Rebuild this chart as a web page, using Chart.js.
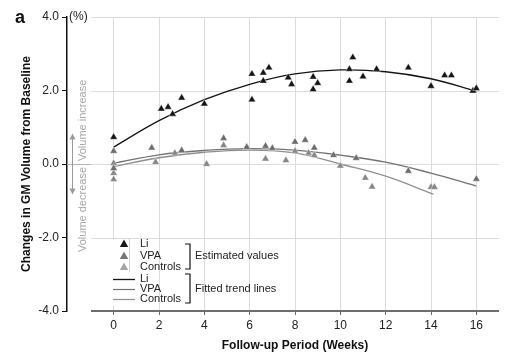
<!DOCTYPE html>
<html><head><meta charset="utf-8">
<script src="https://cdn.jsdelivr.net/npm/chart.js@4"></script>
<style>html,body{margin:0;padding:0;background:#fff}#wrap{width:513px;height:363px;position:relative}</style>
</head><body><div id="wrap"><canvas id="c" width="513" height="363"></canvas></div>
<script>
const FONT = '"Liberation Sans", Arial, Helvetica, sans-serif';
const xTicks = [0, 2, 4, 6, 8, 10, 12, 14, 16];
const yTicks = [-4, -2, 0, 2, 4];

// Estimated values (points)
const liWeeks  = [0, 2.1, 2.4, 2.6, 3.0, 4.0, 6.1, 6.1, 6.6, 6.6, 6.85, 7.7, 7.85, 8.8, 9.0, 8.8, 10.4, 10.55, 10.4, 11.0, 11.6, 13.0, 14.0, 14.6, 14.9, 15.85, 16.0];
const liValues = [0.73, 1.5, 1.55, 1.36, 1.8, 1.64, 2.45, 1.75, 2.48, 2.26, 2.62, 2.35, 2.17, 2.37, 2.2, 2.03, 2.58, 2.9, 2.26, 2.38, 2.58, 2.62, 2.12, 2.41, 2.41, 1.99, 2.06];
const vpaWeeks  = [0, 0, 1.68, 3.0, 4.85, 5.87, 6.7, 7.0, 8.0, 8.45, 8.85, 9.7, 10.7, 13.0, 16.0];
const vpaValues = [0.35, -0.12, 0.44, 0.37, 0.7, 0.46, 0.49, 0.43, 0.6, 0.65, 0.44, 0.24, 0.16, -0.19, -0.41];
const ctrlWeeks  = [0, 0, 0, 1.85, 2.7, 4.1, 4.85, 6.7, 7.6, 8.0, 8.6, 8.85, 10.0, 11.1, 11.4, 14.0, 14.15];
const ctrlValues = [0.02, -0.25, -0.42, 0.05, 0.3, 0.0, 0.51, 0.14, 0.1, 0.35, 0.3, 0.24, -0.05, -0.38, -0.62, -0.63, -0.63];

// Fitted trend lines
const fitWeeks  = [0, 2, 4, 6, 8, 10, 12, 14, 16];
const liFit   = [0.46, 1.18, 1.75, 2.17, 2.45, 2.56, 2.51, 2.32, 1.98];
const vpaFit  = [0.02, 0.25, 0.37, 0.42, 0.38, 0.24, 0.05, -0.25, -0.6];
const ctrlFitWeeks = [0, 2, 4, 6, 8, 10, 12, 14.1];
const ctrlFit = [-0.07, 0.17, 0.32, 0.38, 0.3, 0.0, -0.33, -0.82];

const legendPointLabels = ['Li', 'VPA', 'Controls'];
const legendGroupLabels = ['Estimated values', 'Fitted trend lines'];

const COL = {li: '#151515', vpa: '#6c6c6c', ctrl: '#878787', vpaLine: '#737373', ctrlLine: '#8f8f8f', vpaLeg: '#767676', ctrlLeg: '#a6a6a6'};

const pts = (xs, ys) => xs.map((x, i) => ({x: x, y: ys[i]}));

function ptDs(label, xs, ys, color) {
  return {label, data: pts(xs, ys), showLine: false, order: 0,
    pointStyle: 'triangle', pointRadius: 4.3, backgroundColor: color,
    borderColor: 'rgba(255,255,255,0.7)', borderWidth: 0.6};
}
function lineDs(label, xs, ys, color) {
  return {label, data: pts(xs, ys), showLine: true, order: 1, pointRadius: 0,
    borderColor: color, borderWidth: 1.3, tension: 0.4, fill: false};
}

const deco = {
  id: 'deco',
  beforeDatasetsDraw(chart) {
    const ctx = chart.ctx, x = chart.scales.x, y = chart.scales.y, ca = chart.chartArea;
    const x0 = x.getPixelForValue(-1), x1 = x.getPixelForValue(17);
    ctx.save();
    // horizontal grid
    ctx.strokeStyle = '#dcdcdc'; ctx.lineWidth = 1;
    yTicks.filter(v => v > -4).forEach(v => {
      const py = Math.round(y.getPixelForValue(v)) + 0.5;
      ctx.beginPath(); ctx.moveTo(x0, py); ctx.lineTo(x1, py); ctx.stroke();
    });
    // zero line stub to the axis
    const pz = Math.round(y.getPixelForValue(0)) + 0.5;
    ctx.strokeStyle = '#b5b5b5';
    ctx.beginPath(); ctx.moveTo(ca.left, pz); ctx.lineTo(x0, pz); ctx.stroke();
    // x axis line
    const pb = y.getPixelForValue(-4);
    ctx.strokeStyle = '#6e6e6e'; ctx.lineWidth = 2;
    ctx.beginPath(); ctx.moveTo(x0, pb); ctx.lineTo(x1, pb); ctx.stroke();
    // legend white background
    ctx.fillStyle = '#fff';
    ctx.fillRect(107, y.getPixelForValue(-2) + 2, 48, 66);
    ctx.restore();
  },
  afterDraw(chart) {
    const ctx = chart.ctx, x = chart.scales.x, y = chart.scales.y, ca = chart.chartArea;
    ctx.save();
    ctx.fillStyle = '#111';
    // panel letter
    ctx.font = 'bold 18px ' + FONT; ctx.textAlign = 'left'; ctx.textBaseline = 'middle';
    ctx.fillText('a', 15, 18);
    // unit
    ctx.font = '12px ' + FONT; ctx.fillStyle = '#222';
    ctx.fillText('(%)', ca.left + 2, y.getPixelForValue(4));
    // axis titles
    ctx.font = 'bold 12px ' + FONT; ctx.fillStyle = '#111'; ctx.textAlign = 'center';
    ctx.fillText('Follow-up Period (Weeks)', (x.getPixelForValue(-1) + x.getPixelForValue(17)) / 2, 346);
    ctx.save();
    ctx.translate(27, (ca.top + ca.bottom) / 2); ctx.rotate(-Math.PI / 2);
    ctx.fillText('Changes in GM Volume from Baseline', 0, 0);
    ctx.restore();
    // volume increase / decrease annotation
    const pz = y.getPixelForValue(0), ax = ca.left + 5;
    ctx.strokeStyle = '#9a9a9a'; ctx.fillStyle = '#9a9a9a'; ctx.lineWidth = 1;
    const arrow = (toY, dir) => {
      ctx.beginPath(); ctx.moveTo(ax + 0.5, pz); ctx.lineTo(ax + 0.5, toY); ctx.stroke();
      ctx.beginPath(); ctx.moveTo(ax + 0.5, toY - dir * 1); ctx.lineTo(ax - 2.5, toY + dir * 5); ctx.lineTo(ax + 3.5, toY + dir * 5); ctx.closePath(); ctx.fill();
    };
    arrow(y.getPixelForValue(0.8), 1);
    arrow(y.getPixelForValue(-0.8), -1);
    ctx.fillStyle = '#a8a8a8'; ctx.font = '11px ' + FONT;
    ctx.save();
    ctx.translate(ca.left + 16, pz); ctx.rotate(-Math.PI / 2);
    ctx.textBaseline = 'middle';
    ctx.textAlign = 'left'; ctx.fillText('Volume increase', 3, 0);
    ctx.textAlign = 'right'; ctx.fillText('Volume decrease', -3, 0);
    ctx.restore();
    // legend
    const tri = (cx, cy, col) => {
      ctx.fillStyle = col; ctx.beginPath();
      ctx.moveTo(cx, cy - 4.5); ctx.lineTo(cx + 4.2, cy + 3); ctx.lineTo(cx - 4.2, cy + 3); ctx.closePath(); ctx.fill();
    };
    const rowsA = [244, 256, 267], rowsB = [279, 289, 299];
    const triCols = [COL.li, COL.vpaLeg, COL.ctrlLeg];
    const lineCols = [COL.li, COL.vpaLine, COL.ctrlLine];
    ctx.font = '11px ' + FONT; ctx.textAlign = 'left'; ctx.textBaseline = 'middle';
    legendPointLabels.forEach((lab, i) => {
      tri(124, rowsA[i], triCols[i]);
      ctx.fillStyle = '#222'; ctx.fillText(lab, 140, rowsA[i]);
      ctx.strokeStyle = lineCols[i]; ctx.lineWidth = i === 0 ? 1.3 : 1.2;
      ctx.beginPath(); ctx.moveTo(113, rowsB[i] + 0.5); ctx.lineTo(135, rowsB[i] + 0.5); ctx.stroke();
      ctx.fillStyle = '#222'; ctx.fillText(lab, 140, rowsB[i]);
    });
    ctx.strokeStyle = '#d0d0d0'; ctx.lineWidth = 1;
    ctx.beginPath(); ctx.moveTo(129.5, 239); ctx.lineTo(129.5, 272); ctx.stroke();
    ctx.strokeStyle = '#111'; ctx.lineWidth = 1.2;
    const bracket = (t, b) => { ctx.beginPath(); ctx.moveTo(185, t); ctx.lineTo(190, t); ctx.lineTo(190, b); ctx.lineTo(185, b); ctx.stroke(); };
    bracket(244, 269); bracket(274, 303);
    ctx.fillStyle = '#222';
    ctx.fillText(legendGroupLabels[0], 195, 256);
    ctx.fillText(legendGroupLabels[1], 195, 289);
    ctx.restore();
  }
};

new Chart(document.getElementById('c'), {
  type: 'scatter',
  data: {datasets: [
    ptDs('Li', liWeeks, liValues, COL.li),
    ptDs('VPA', vpaWeeks, vpaValues, COL.vpa),
    ptDs('Controls', ctrlWeeks, ctrlValues, COL.ctrl),
    lineDs('Li fit', fitWeeks, liFit, COL.li),
    lineDs('VPA fit', fitWeeks, vpaFit, COL.vpaLine),
    lineDs('Controls fit', ctrlFitWeeks, ctrlFit, COL.ctrlLine)
  ]},
  options: {
    responsive: false, animation: false, devicePixelRatio: 1,
    layout: {padding: {top: 17, right: 14, bottom: 0, left: 0}},
    plugins: {legend: {display: false}, tooltip: {enabled: false}},
    scales: {
      x: {type: 'linear', min: -1 - 24 / (408 / 18), max: 17,
        afterBuildTicks: s => { s.ticks = xTicks.map(v => ({value: v})); },
        afterFit: s => { s.height = 52; },
        border: {display: false},
        grid: {color: '#dcdcdc', lineWidth: 1, tickLength: 4, tickColor: '#666'},
        ticks: {font: {family: FONT, size: 12}, color: '#222', padding: 3, autoSkip: false, maxRotation: 0}
      },
      y: {min: -4, max: 4,
        afterBuildTicks: s => { s.ticks = yTicks.map(v => ({value: v})); },
        afterFit: s => { s.width = 67; },
        border: {display: true, color: '#111', width: 1.5},
        grid: {drawOnChartArea: false, drawTicks: true, tickLength: 5, tickColor: '#111'},
        ticks: {callback: v => v.toFixed(1), font: {family: FONT, size: 12}, color: '#222', padding: 3}
      }
    }
  },
  plugins: [deco]
});
</script>
</body></html>
